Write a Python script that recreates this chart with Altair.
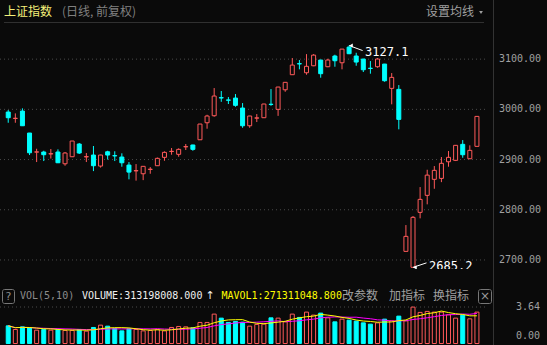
import altair as alt
import pandas as pd

BG = "#0a0a0a"
RED = "#ff5a5a"
CYAN = "#00ffff"
GRAY = "#a0a0a0"
CJK = "Noto Sans CJK SC"
MONO = "DejaVu Sans Mono"

# ---- data ----
opens = [2994.6, 2981.8, 2996.6, 2952.8, 2914.8, 2915.0, 2911.2, 2915.0, 2891.6, 2905.6,
         2930.9, 2905.3, 2909.0, 2887.0, 2915.5, 2907.8, 2905.0, 2889.0, 2877.5, 2871.7,
         2880.3, 2887.7, 2904.4, 2916.0, 2910.4, 2925.3, 2929.0, 2939.4, 2973.3, 2987.3,
         3023.2, 3018.7, 3022.5, 3002.6, 2967.3, 2982.5, 2983.3, 3010.2, 3000.0, 3039.0,
         3069.0, 3091.0, 3072.9, 3086.8, 3098.2, 3084.9, 3106.2, 3092.8, 3124.0, 3106.2,
         3100.2, 3081.9, 3084.9, 3090.2, 3041.8, 3039.8, 2717.1, 2685.3, 2794.8, 2828.7,
         2860.6, 2862.5, 2895.6, 2898.4, 2930.3, 2901.6, 2926.3]
highs = [2998.6, 2992.0, 3002.0, 2953.0, 2921.5, 2917.5, 2921.0, 2920.3, 2915.0, 2937.0,
         2933.0, 2913.0, 2927.0, 2909.5, 2917.5, 2916.5, 2912.4, 2895.0, 2891.0, 2887.0,
         2885.0, 2904.0, 2916.3, 2923.0, 2922.3, 2931.0, 2929.5, 2971.0, 2989.2, 3042.4,
         3036.5, 3024.5, 3030.5, 3012.5, 2987.0, 2990.6, 3011.0, 3040.4, 3044.8, 3054.0,
         3102.2, 3098.2, 3110.0, 3110.0, 3098.5, 3100.8, 3108.8, 3120.3, 3127.1, 3112.7,
         3100.5, 3096.2, 3102.2, 3090.5, 3072.3, 3048.4, 2769.5, 2787.5, 2845.2, 2879.7,
         2887.0, 2905.0, 2917.0, 2929.0, 2938.8, 2928.3, 2986.5]
lows = [2973.3, 2973.3, 2967.0, 2909.0, 2895.0, 2897.0, 2902.0, 2893.0, 2887.7, 2905.0,
        2911.0, 2895.0, 2877.0, 2884.0, 2900.0, 2897.0, 2885.7, 2860.6, 2858.0, 2859.0,
        2871.7, 2887.5, 2897.6, 2909.6, 2905.6, 2919.0, 2917.5, 2939.0, 2961.4, 2985.3,
        3015.0, 3010.6, 3005.2, 2963.3, 2963.3, 2974.7, 2983.0, 3007.0, 2987.0, 3035.0,
        3069.0, 3079.7, 3069.0, 3086.0, 3063.0, 3084.0, 3084.9, 3079.7, 3110.0, 3086.8,
        3074.3, 3071.0, 3082.9, 3055.0, 3010.0, 2960.2, 2717.0, 2685.2, 2782.9, 2810.8,
        2841.8, 2855.0, 2885.7, 2897.0, 2903.6, 2901.0, 2926.0]
closes = [2983.3, 2982.3, 2967.3, 2913.5, 2915.3, 2909.6, 2911.7, 2893.6, 2913.0, 2936.9,
          2913.0, 2905.8, 2887.7, 2909.0, 2909.0, 2907.3, 2893.6, 2875.0, 2878.0, 2886.5,
          2880.8, 2902.4, 2914.3, 2916.5, 2920.3, 2925.8, 2920.3, 2970.7, 2986.7, 3026.5,
          3022.7, 3018.2, 3008.0, 2967.3, 2986.7, 2983.0, 3010.6, 3009.7, 3044.4, 3053.8,
          3088.2, 3090.5, 3085.7, 3108.0, 3071.0, 3098.2, 3096.8, 3120.0, 3110.8, 3094.2,
          3078.9, 3081.4, 3100.2, 3057.0, 3063.7, 2980.0, 2747.0, 2784.9, 2820.7, 2869.0,
          2878.5, 2892.5, 2904.4, 2928.3, 2909.6, 2918.3, 2986.0]
# volume, in units of 1e8
volumes = [1.76, 1.40, 1.66, 1.56, 1.33, 1.40, 1.33, 1.40, 1.30, 1.30,
           1.40, 1.23, 1.60, 1.83, 1.73, 1.50, 1.26, 1.46, 1.40, 1.26,
           1.30, 1.40, 1.26, 1.60, 1.70, 1.66, 1.56, 2.10, 2.10, 2.93,
           2.53, 2.10, 2.20, 2.13, 1.73, 1.90, 1.93, 2.56, 2.53, 2.16,
           2.93, 2.60, 3.13, 2.83, 3.03, 2.56, 2.16, 2.43, 2.33, 2.23,
           2.06, 1.93, 2.06, 2.43, 2.26, 2.73, 2.26, 3.63, 3.10, 3.20,
           3.13, 3.13, 2.86, 2.53, 2.83, 2.46, 3.13]
price_ticks = [3100, 3000, 2900, 2800, 2700]
vol_top_tick = 3.64
ann_idx = [48, 57]
ann_price = [3127.1, 2685.2]

n = len(opens)
df = pd.DataFrame({
    "i": list(range(n)), "open": opens, "high": highs, "low": lows,
    "close": closes, "vol": volumes,
})
df["dir"] = ["up" if c >= o else "down" for o, c in zip(opens, closes)]

xs = alt.Scale(domain=[-0.455, 66.855], range=[0, 488], nice=False, zero=False)
py = alt.Scale(domain=[2680, 3170], range=[270, 24], nice=False, zero=False)
vy = alt.Scale(domain=[0, vol_top_tick], range=[343.5, 307], nice=False)
fill_s = alt.Scale(domain=["up", "down"], range=[BG, CYAN])
stroke_s = alt.Scale(domain=["up", "down"], range=[RED, CYAN])

X = alt.X("i:Q", scale=xs, axis=None)

# ---- price panel ----
grid = alt.Chart(pd.DataFrame({"p": price_ticks})).mark_rule(
    color="#4a4a4a", strokeDash=[1, 3], strokeWidth=1
).encode(y=alt.Y("p:Q", scale=py, axis=None), x=alt.value(0), x2=alt.value(488))

plabels = alt.Chart(pd.DataFrame({"p": price_ticks})).mark_text(
    align="left", baseline="middle", font=MONO, fontSize=10, color=GRAY
).encode(y=alt.Y("p:Q", scale=py, axis=None), x=alt.value(499),
         text=alt.Text("p:Q", format=".2f"))

wick = alt.Chart(df).mark_rule(strokeWidth=1).encode(
    x=X, y=alt.Y("low:Q", scale=py, axis=None), y2="high:Q",
    stroke=alt.Stroke("dir:N", scale=stroke_s, legend=None))

body = alt.Chart(df).mark_bar(size=4, strokeWidth=1).encode(
    x=X, y=alt.Y("open:Q", scale=py, axis=None), y2="close:Q",
    fill=alt.Fill("dir:N", scale=fill_s, legend=None),
    stroke=alt.Stroke("dir:N", scale=stroke_s, legend=None))

ann = pd.DataFrame({"i": ann_idx, "p": ann_price,
                    "label": [f"{v:.1f}" for v in ann_price],
                    "kind": ["max", "min"]})
arrow = alt.Chart(ann).transform_calculate(
    i2="datum.i + 1.9", p2="datum.kind == 'max' ? datum.p - 10 : datum.p + 9"
).mark_rule(color="white", strokeWidth=1).encode(
    x=X, y=alt.Y("p:Q", scale=py, axis=None), x2="i2:Q", y2="p2:Q")
head = alt.Chart(ann).mark_point(shape="triangle-left", filled=True, size=16,
                                 color="white", opacity=1, xOffset=2).encode(
    x=X, y=alt.Y("p:Q", scale=py, axis=None))
tmax = alt.Chart(ann).transform_filter("datum.kind == 'max'").mark_text(
    align="left", baseline="middle", font=MONO, fontSize=12, color="white", dx=16, dy=6
).encode(x=X, y=alt.Y("p:Q", scale=py, axis=None), text="label:N")
tmin = alt.Chart(ann).transform_filter("datum.kind == 'min'").mark_text(
    align="left", baseline="middle", font=MONO, fontSize=12, color="white", dx=16, dy=-1
).encode(x=X, y=alt.Y("p:Q", scale=py, axis=None), text="label:N")

price_layer = alt.layer(grid, plabels, wick, body, arrow, head, tmax, tmin)

one = pd.DataFrame({"a": [0]})
# price panel clip edge (the low label is cut off at the panel bottom)
clip_mask = alt.Chart(one).mark_rect(fill=BG).encode(
    x=alt.value(0), x2=alt.value(488), y=alt.value(269), y2=alt.value(284))

# ---- volume panel ----
vgrid = alt.Chart(pd.DataFrame({"v": [vol_top_tick]})).mark_rule(
    color="#4a4a4a", strokeDash=[1, 3], strokeWidth=1
).encode(y=alt.Y("v:Q", scale=vy, axis=None), x=alt.value(0), x2=alt.value(488))

vbar = alt.Chart(df).mark_bar(size=4, strokeWidth=1).encode(
    x=X, y=alt.Y("vol:Q", scale=vy, axis=None), y2=alt.datum(0),
    fill=alt.Fill("dir:N", scale=fill_s, legend=None),
    stroke=alt.Stroke("dir:N", scale=stroke_s, legend=None))

ma_base = alt.Chart(df).transform_window(
    ma5="mean(vol)", frame=[-4, 0], sort=[alt.SortField("i")]
).transform_window(
    ma10="mean(vol)", frame=[-9, 0], sort=[alt.SortField("i")])
ma10 = ma_base.mark_line(color="#ff00ff", strokeWidth=1).encode(
    x=X, y=alt.Y("ma10:Q", scale=vy, axis=None))
ma5 = ma_base.mark_line(color="#ffff00", strokeWidth=1).encode(
    x=X, y=alt.Y("ma5:Q", scale=vy, axis=None))

vol_layer = alt.layer(vgrid, vbar, ma10, ma5)


# ---- static interface text ----
def txt(s, x, y, color, size=12, font=CJK, align="left"):
    return alt.Chart(pd.DataFrame({"t": [s]})).mark_text(
        align=align, baseline="middle", font=font, fontSize=size, color=color
    ).encode(x=alt.value(x), y=alt.value(y), text="t:N")


def box(x1, x2, y1, y2):
    return alt.Chart(pd.DataFrame({"a": [0]})).mark_rect(
        fill=None, stroke="#777777", strokeWidth=1, cornerRadius=2
    ).encode(x=alt.value(x1), x2=alt.value(x2), y=alt.value(y1), y2=alt.value(y2))


sep_v = alt.Chart(one).mark_rule(color="#333333", strokeWidth=1).encode(
    x=alt.value(493.5), y=alt.value(0), y2=alt.value(345))
sep_h = alt.Chart(one).mark_rule(color="#303030", strokeWidth=1).encode(
    x=alt.value(4), x2=alt.value(484), y=alt.value(22.5))
drop = alt.Chart(one).mark_point(shape="triangle-down", filled=True, size=14,
                                 color=GRAY, opacity=1).encode(
    x=alt.value(481), y=alt.value(12.5))

statics = [
    clip_mask, sep_v, sep_h, drop,
    txt("上证指数", 4, 12, "#f5f07a"),
    txt("(日线, 前复权)", 62, 12, "#808080"),
    txt("设置均线", 426, 12, GRAY),
    box(2.5, 14.5, 289.5, 303.5),
    txt("?", 8.5, 296.5, "#8c8c8c", size=11, font="DejaVu Sans", align="center"),
    txt("VOL(5,10)", 20, 296, "#8c8c8c", size=10, font=MONO),
    txt("VOLUME:313198008.000", 82, 296, "#f0f0f0", size=10, font=MONO),
    txt("↑", 210, 296, "#f0f0f0", size=11, font="DejaVu Sans", align="center"),
    txt("MAVOL1:271311048.800", 221.5, 296, "#ffff00", size=10, font=MONO),
    txt("改参数", 342, 296, GRAY),
    txt("加指标", 389, 296, GRAY),
    txt("换指标", 433, 296, GRAY),
    box(478.5, 491.5, 289.5, 303.5),
    txt("×", 485, 296, "#999999", size=12, font="DejaVu Sans", align="center"),
    txt("3.64", 516, 307, GRAY, size=10, font=MONO),
    txt("0.00", 516, 336, GRAY, size=10, font=MONO),
]

chart = alt.layer(price_layer, vol_layer, *statics).resolve_scale(
    y="independent"
).properties(
    width=547, height=345, background=BG, padding=0,
    autosize=alt.AutoSizeParams(type="none"),
).configure_view(stroke=None)

chart.save("out.html", embed_options={"renderer": "svg", "actions": False})
